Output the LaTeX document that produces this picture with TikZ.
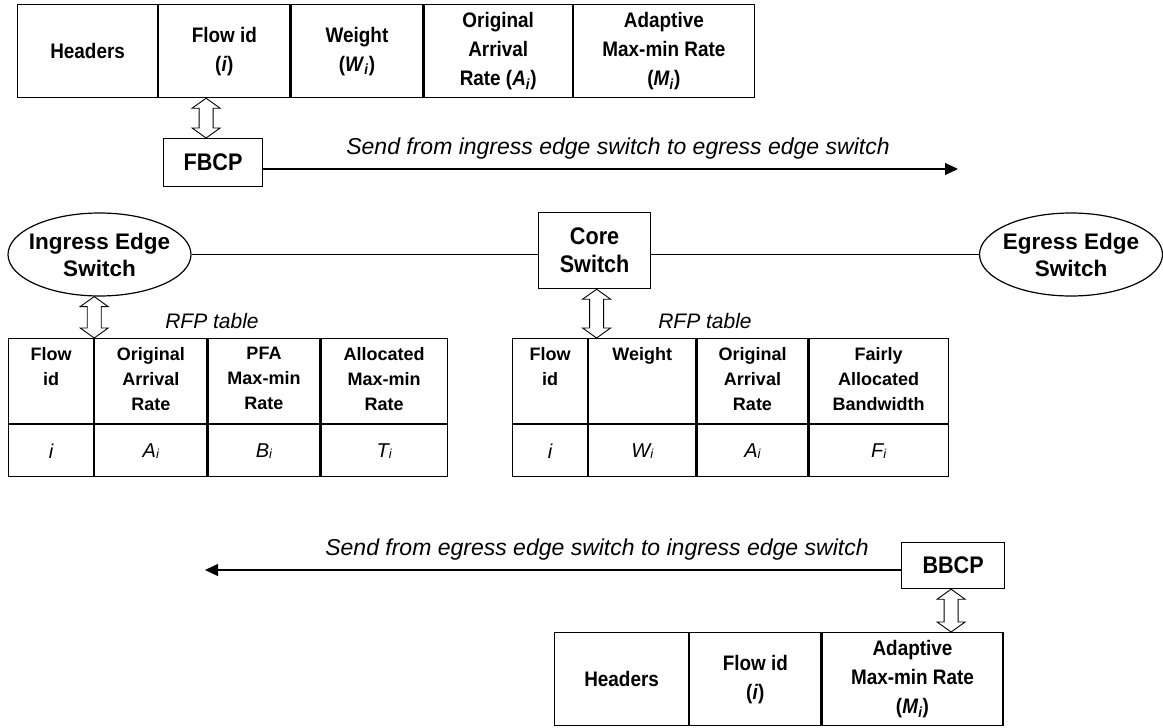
\documentclass[tikz,border=0pt]{standalone}
\usepackage{fontspec}
\setmainfont{Liberation Sans}
\newfontfamily\condsf[FakeStretch=0.9]{Liberation Sans}
\usetikzlibrary{positioning,shapes.geometric,arrows.meta,calc}

\newcommand{\fsz}[2]{\fontsize{#1}{#2}\selectfont}
% value with a small index, as in the RFP tables
\newcommand{\ixv}[2]{\textit{#1}\raisebox{-1pt}{\fsz{13}{13}\textit{#2}}}
% hollow two-headed arrow from a top point to a bottom point
\newcommand{\hollowarrow}[2]{%
  \draw[hollow] let \p1=#1, \p2=#2 in
    (\x1,\y1) -- (\x1+14pt,\y1-10pt) -- (\x1+7pt,\y1-10pt) -- (\x1+7pt,\y2+10pt)
    -- (\x1+14pt,\y2+10pt) -- (\x1,\y2) -- (\x1-14pt,\y2+10pt) -- (\x1-7pt,\y2+10pt)
    -- (\x1-7pt,\y1-10pt) -- (\x1-14pt,\y1-10pt) -- cycle;}

\begin{document}
\begin{tikzpicture}[x=1pt,y=-1pt,
  box/.style={draw, line width=1.2pt, inner sep=0pt},
  topcell/.style={box, anchor=north west, minimum height=93, align=center,
    font=\condsf\bfseries\fsz{21}{29}},
  rfpcell/.style={box, anchor=north west},
  rfpval/.style={rfpcell, font=\itshape\fsz{20}{22}},
  rfphead/.style={anchor=north, align=center, inner sep=0pt, font=\bfseries\fsz{18}{25}},
  swbox/.style={box, align=center, font=\condsf\bfseries\fsz{24}{28}},
  edgesw/.style={swbox, ellipse, minimum width=183, minimum height=83,
    inner xsep=-12pt, font=\bfseries\fsz{22.5}{27}},
  link/.style={line width=1.2pt},
  send/.style={link, -{Triangle[length=13pt,width=12pt]}},
  hollow/.style={line width=0.9pt},
  sendtext/.style={font=\itshape\fsz{23}{26}},
  tabname/.style={font=\itshape\fsz{21}{24}}]
\useasboundingbox (0,0) rectangle (1163,728);

% forward control packet
\node[topcell, minimum width=140] (thdr) at (17,4) {Headers};
\node[topcell, minimum width=131] (tflow) at (thdr.north east) {Flow id\\(\textit{i})};
\node[topcell, minimum width=132] (twgt) at (tflow.north east) {Weight\\(\textit{W}\textsubscript{\textit{i}})};
\node[topcell, minimum width=148] (tarr) at (twgt.north east) {Original\\Arrival\\Rate (\textit{A}\textsubscript{\textit{i}})};
\node[topcell, minimum width=181] (trate) at (tarr.north east) {Adaptive\\Max-min Rate\\(\textit{M}\textsubscript{\textit{i}})};

\node[swbox, minimum width=99, minimum height=48, anchor=north west] (fbcp) at (163,138) {FBCP};
\coordinate (fwdend) at (958,169);
\draw[send] (fbcp.east |- fwdend) -- (fwdend);
\node[sendtext] (fwdtext) at (618,149) {Send from ingress edge switch to egress edge switch};

% switches
\node[edgesw] (ingress) at (99.5,254.5) {Ingress Edge\\Switch};
\node[swbox, minimum width=112, minimum height=76, anchor=north west] (core) at (538,212) {Core\\Switch};
\node[edgesw] (egress) at (1071,254.5) {Egress Edge\\Switch};
\draw[link] (ingress.east) -- (ingress.east -| core.west);
\draw[link] (core.east |- egress.west) -- (egress.west);

% RFP table at the ingress edge switch
\node[rfpcell, minimum width=85, minimum height=85] (lflow) at (8,338) {};
\node[rfpcell, minimum width=112, minimum height=85] (larr) at (lflow.north east) {};
\node[rfpcell, minimum width=112, minimum height=85] (lpfa) at (larr.north east) {};
\node[rfpcell, minimum width=126, minimum height=85] (lalloc) at (lpfa.north east) {};
\node[rfpval, minimum width=85, minimum height=52] (lflowv) at (lflow.south west) {\textit{i}};
\node[rfpval, minimum width=112, minimum height=52] (larrv) at (larr.south west) {\ixv{A}{i}};
\node[rfpval, minimum width=112, minimum height=52] (lpfav) at (lpfa.south west) {\ixv{B}{i}};
\node[rfpval, minimum width=126, minimum height=52] (lallocv) at (lalloc.south west) {\ixv{T}{i}};
\node[rfphead] at ([yshift=-9pt]lflow.north) {Flow\\id};
\node[rfphead] at ([yshift=-9pt]larr.north) {Original\\Arrival\\Rate};
\node[rfphead] at ([yshift=-9pt]lpfa.north) {PFA\\Max-min\\Rate};
\node[rfphead] at ([yshift=-9pt]lalloc.north) {Allocated\\Max-min\\Rate};
\node[tabname] (lname) at (212,321) {RFP table};

% RFP table at the core switch
\node[rfpcell, minimum width=75, minimum height=85] (rflow) at (512,338) {};
\node[rfpcell, minimum width=107, minimum height=85] (rwgt) at (rflow.north east) {};
\node[rfpcell, minimum width=111, minimum height=85] (rarr) at (rwgt.north east) {};
\node[rfpcell, minimum width=139, minimum height=85] (rbw) at (rarr.north east) {};
\node[rfpval, minimum width=75, minimum height=52] (rflowv) at (rflow.south west) {\textit{i}};
\node[rfpval, minimum width=107, minimum height=52] (rwgtv) at (rwgt.south west) {\ixv{W}{i}};
\node[rfpval, minimum width=111, minimum height=52] (rarrv) at (rarr.south west) {\ixv{A}{i}};
\node[rfpval, minimum width=139, minimum height=52] (rbwv) at (rbw.south west) {\ixv{F}{i}};
\node[rfphead] at ([yshift=-9pt]rflow.north) {Flow\\id};
\node[rfphead] at ([yshift=-9pt]rwgt.north) {Weight};
\node[rfphead] at ([yshift=-9pt]rarr.north) {Original\\Arrival\\Rate};
\node[rfphead] at ([yshift=-9pt]rbw.north) {Fairly\\Allocated\\Bandwidth};
\node[tabname] (rname) at (705,321) {RFP table};

\hollowarrow{([xshift=-7pt]fbcp.north |- tflow.south)}{([xshift=-7pt]fbcp.north)}
\hollowarrow{(lflow.north east |- ingress.south)}{(lflow.north east)}
\hollowarrow{([xshift=2pt]core.south)}{([xshift=2pt]core.south |- rflow.north)}

% backward control packet
\node[swbox, minimum width=103, minimum height=46, anchor=north west] (bbcp) at (901,542) {BBCP};
\coordinate (bwdend) at (205,570);
\draw[send] (bbcp.west |- bwdend) -- (bwdend);
\node[sendtext] (bwdtext) at (597,550) {Send from egress edge switch to ingress edge switch};

\node[topcell, minimum width=134] (bhdr) at (554,632) {Headers};
\node[topcell, minimum width=131] (bflow) at (bhdr.north east) {Flow id\\(\textit{i})};
\node[topcell, minimum width=181] (brate) at (bflow.north east) {Adaptive\\Max-min Rate\\(\textit{M}\textsubscript{\textit{i}})};
\hollowarrow{([xshift=-2pt]bbcp.south)}{([xshift=-2pt]bbcp.south |- brate.north)}
\end{tikzpicture}
\end{document}
